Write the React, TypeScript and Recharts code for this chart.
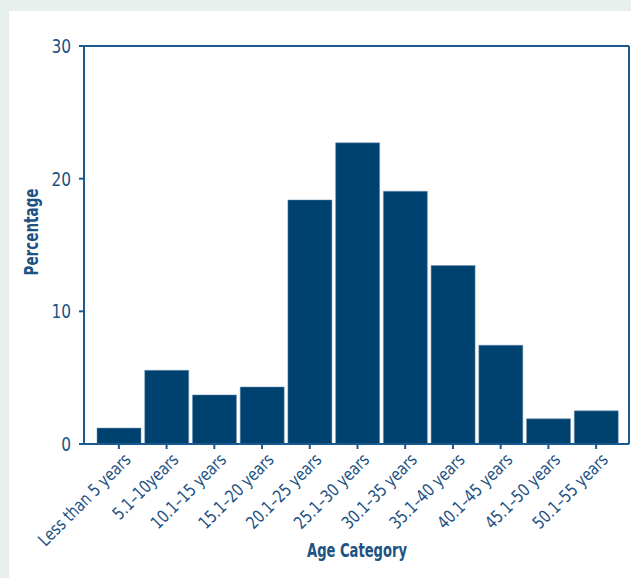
import { BarChart, Bar, XAxis, YAxis } from "recharts";

const categories = [
  "Less than 5 years", "5.1–10years", "10.1–15 years", "15.1–20 years",
  "20.1–25 years", "25.1–30 years", "30.1–35 years", "35.1–40 years",
  "40.1–45 years", "45.1–50 years", "50.1–55 years",
];
const percentages = [1.2, 5.55, 3.7, 4.3, 18.4, 22.7, 19.05, 13.45, 7.45, 1.9, 2.5];
const yTicks = [0, 10, 20, 30];

const INK = "#1d5283";
const AXIS = "#1a5a8f";
const BAR = "#00426f";
const FONT = "'DejaVu Sans Condensed', 'Liberation Sans Narrow', 'Liberation Sans', sans-serif";

const rows = categories.map((c, i) => ({ cat: c, pct: percentages[i] }));

// rotated category label, squeezed a bit to mimic a condensed face
function AngledTick({ x, y, payload }: any) {
  return (
    <g transform={`translate(${x + 4} ${y + 1}) rotate(-45) scale(0.88 1)`}>
      <text x={0} y={0} textAnchor="end" dy="0.72em" fill={INK} fontSize={17.5} fontFamily={FONT}>
        {payload.value}
      </text>
    </g>
  );
}

function YTick({ x, y, payload }: any) {
  return (
    <g transform={`translate(${x} ${y}) scale(0.9 1)`}>
      <text x={0} y={0} textAnchor="end" dy="0.36em" fill={INK} fontSize={19} fontFamily={FONT}>
        {payload.value}
      </text>
    </g>
  );
}

export default function App() {
  return (
    <div style={{ position: "absolute", left: 0, top: 0, width: 631, height: 578, background: "#e8f0ee", overflow: "hidden" }}>
      <div style={{ position: "absolute", left: 9, top: 11, width: 622, height: 567, background: "#fff" }} />
      <div style={{ position: "absolute", left: 0, top: 0 }}>
        <BarChart
          width={631} height={578} data={rows}
          margin={{ top: 45, right: 1, bottom: 0, left: 0 }}
          barCategoryGap={2}
        >
          <XAxis
            dataKey="cat" interval={0} padding={{ left: 11, right: 9 }}
            height={134} tick={<AngledTick />} tickSize={5}
            tickLine={{ stroke: AXIS, strokeWidth: 2 }}
            axisLine={{ stroke: AXIS, strokeWidth: 2 }}
          />
          <XAxis xAxisId="top" dataKey="cat" orientation="top" height={1} tick={false} tickLine={false}
            axisLine={{ stroke: AXIS, strokeWidth: 2 }} />
          <YAxis
            domain={[0, 30]} ticks={yTicks} width={84} tickSize={5} tickMargin={8}
            tick={<YTick />}
            tickLine={{ stroke: AXIS, strokeWidth: 2 }}
            axisLine={{ stroke: AXIS, strokeWidth: 2 }}
          />
          <YAxis yAxisId="right" orientation="right" width={1} domain={[0, 30]} tick={false} tickLine={false}
            axisLine={{ stroke: AXIS, strokeWidth: 2 }} />
          <Bar dataKey="pct" fill={BAR} stroke="#6f93b5" strokeWidth={0.5} isAnimationActive={false} />
        </BarChart>
        <svg width={631} height={578} style={{ position: "absolute", left: 0, top: 0, pointerEvents: "none" }}>
          <text x={38} y={232} transform="rotate(-90 38 232)" textAnchor="middle" textLength={87}
            lengthAdjust="spacingAndGlyphs" fill={INK} fontSize={20} fontWeight="bold" fontFamily={FONT}>Percentage</text>
          <text x={357} y={557} textAnchor="middle" textLength={100} lengthAdjust="spacingAndGlyphs"
            fill={INK} fontSize={20} fontWeight="bold" fontFamily={FONT}>Age Category</text>
        </svg>
      </div>
    </div>
  );
}
